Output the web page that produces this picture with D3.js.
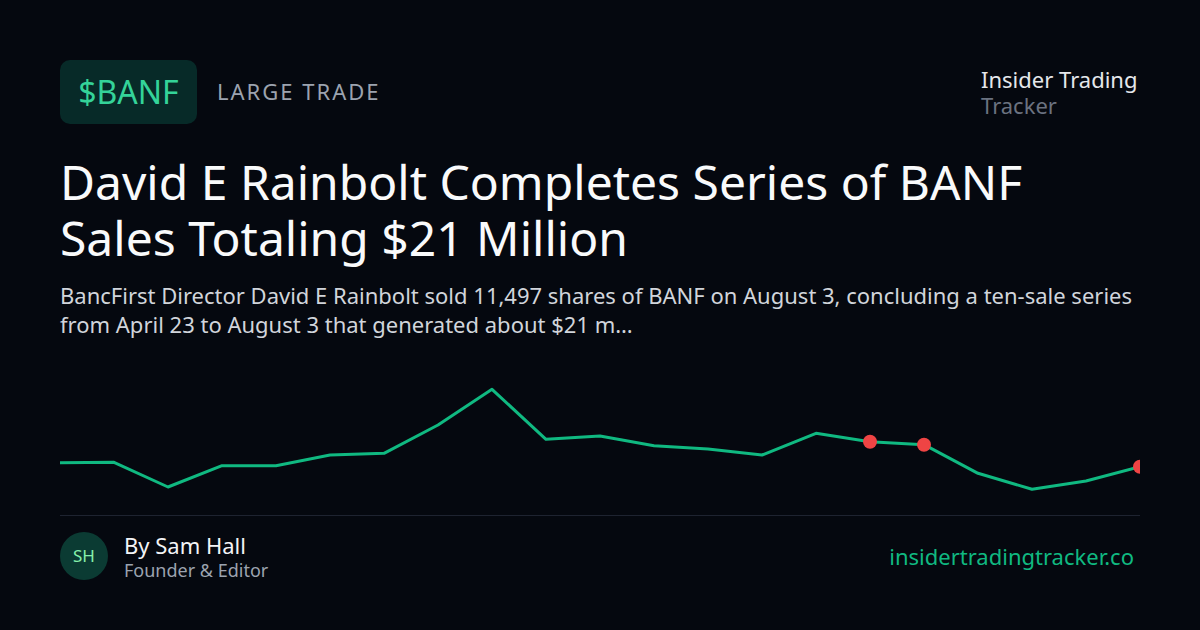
<!DOCTYPE html>
<html>
<head>
<meta charset="utf-8">
<script src="https://cdn.jsdelivr.net/npm/d3@7/dist/d3.min.js"></script>
<style>
  html, body { margin: 0; padding: 0; background: #05080f; }
  svg { display: block; }
  text { font-family: "Noto Sans", "Open Sans", sans-serif; }
</style>
</head>
<body>
<svg id="chart" width="1200" height="630"></svg>
<script>
// ---- data ----
const ticker = "$BANF";
const tag = "LARGE TRADE";
const brandLines = ["Insider Trading", "Tracker"];
const titleLines = ["David E Rainbolt Completes Series of BANF", "Sales Totaling $21 Million"];
const subtitleLines = [
  "BancFirst Director David E Rainbolt sold 11,497 shares of BANF on August 3, concluding a ten-sale series",
  "from April 23 to August 3 that generated about $21 m\u2026"
];
const authorName = "By Sam Hall";
const authorRole = "Founder & Editor";
const authorInitials = "SH";
const siteUrl = "insidertradingtracker.co";

// price series (index order)
const prices = [112.66, 112.70, 110.23, 112.36, 112.36, 113.43, 113.60, 116.43, 120.00, 115.00,
                115.33, 114.36, 114.03, 113.43, 115.60, 114.76, 114.46, 111.60, 110.00, 110.83, 112.26];
// indices of sale markers
const saleIdx = [15, 16, 20];

// ---- drawing ----
const svg = d3.select("#chart");
svg.append("rect").attr("width", 1200).attr("height", 630).attr("fill", "#05080f");

// badge
svg.append("rect").attr("x", 60).attr("y", 60).attr("width", 137).attr("height", 64)
  .attr("rx", 10).attr("fill", "#072a28");
svg.append("text").attr("x", 128.5).attr("y", 103.5).attr("text-anchor", "middle")
  .attr("font-size", 32).attr("fill", "#34d399").text(ticker);
svg.append("text").attr("x", 217).attr("y", 100).attr("font-size", 22)
  .attr("letter-spacing", 2).attr("fill", "#9ca3af").text(tag);

// brand
svg.append("text").attr("x", 981).attr("y", 88).attr("font-size", 22).attr("fill", "#e5e7eb").text(brandLines[0]);
svg.append("text").attr("x", 981).attr("y", 114).attr("font-size", 22).attr("fill", "#6b7280").text(brandLines[1]);

// title
titleLines.forEach((t, i) => {
  svg.append("text").attr("x", 60).attr("y", 200 + i * 56).attr("font-size", 48)
    .attr("fill", "#f9fafb").text(t);
});
subtitleLines.forEach((t, i) => {
  svg.append("text").attr("x", 60).attr("y", 304 + i * 29).attr("font-size", 22)
    .attr("fill", "#d1d5db").text(t);
});

// chart
const x = d3.scaleLinear().domain([0, prices.length - 1]).range([60, 1140]);
const y = d3.scaleLinear().domain(d3.extent(prices)).range([489.3, 389.3]);

svg.append("clipPath").attr("id", "clip").append("rect")
  .attr("x", 0).attr("y", 360).attr("width", 1140).attr("height", 150);

const g = svg.append("g").attr("clip-path", "url(#clip)");
g.append("path").datum(prices)
  .attr("fill", "none").attr("stroke", "#10b981").attr("stroke-width", 3)
  .attr("stroke-linejoin", "round")
  .attr("d", d3.line().x((d, i) => x(i)).y(d => y(d)));
g.selectAll("circle.sale").data(saleIdx).enter().append("circle")
  .attr("class", "sale")
  .attr("cx", i => x(i)).attr("cy", i => y(prices[i])).attr("r", 7)
  .attr("fill", "#ef4444");

// separator
svg.append("line").attr("x1", 60).attr("x2", 1140).attr("y1", 515.5).attr("y2", 515.5)
  .attr("stroke", "#1e2330").attr("stroke-width", 1);

// footer
svg.append("circle").attr("cx", 84).attr("cy", 556).attr("r", 24).attr("fill", "#0b3b33");
svg.append("text").attr("x", 84).attr("y", 562).attr("text-anchor", "middle")
  .attr("font-size", 17).attr("fill", "#86efac").text(authorInitials);
svg.append("text").attr("x", 124).attr("y", 554).attr("font-size", 22).attr("fill", "#f3f4f6").text(authorName);
svg.append("text").attr("x", 124).attr("y", 577).attr("font-size", 18).attr("fill", "#9ca3af").text(authorRole);
svg.append("text").attr("x", 1134).attr("y", 565).attr("text-anchor", "end")
  .attr("font-size", 22).attr("fill", "#10b981").text(siteUrl);
</script>
</body>
</html>
